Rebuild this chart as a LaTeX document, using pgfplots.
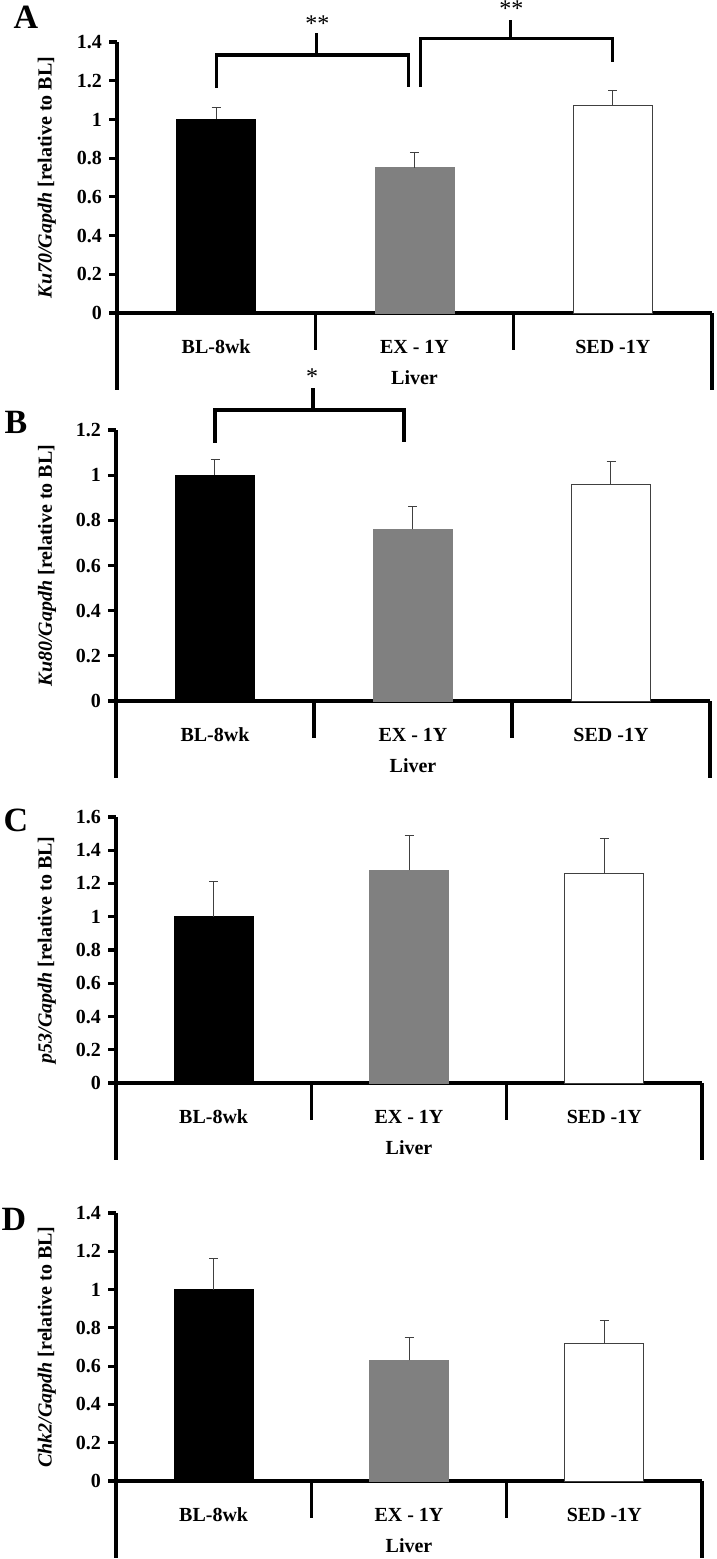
\documentclass[border=0pt]{standalone}
\usepackage{fontspec}
\setmainfont{Liberation Serif}
\usepackage{pgfplots}
\pgfplotsset{compat=1.18}
\definecolor{exgray}{RGB}{128,128,128}
\definecolor{edgegray}{RGB}{64,64,64}

\pgfplotsset{
  liverpanel/.style={
    scale only axis,
    axis x line*=bottom, axis y line*=left,
    xmin=-0.5, xmax=2.5, ymin=0,
    xtick={0,1,2},
    xticklabels={BL-8wk, EX - 1Y, SED -1Y},
    xtick style={draw=none},
    xticklabel style={font=\bfseries, yshift=-6pt},
    ytick distance=0.2,
    yticklabel={\bfseries\pgfmathprintnumber[assume math mode=true]{\tick}},
    yticklabel style={font=\bfseries},
    tick align=outside,
    major tick length=4pt,
    ytick style={line width=1.6pt, black},
    axis line style={line width=1.8pt},
    xlabel={Liver},
    xlabel style={font=\bfseries, at={(axis description cs:0.5,0)}, anchor=center, yshift=-32.5pt},
    ylabel style={font=\bfseries, anchor=center},
    clip=false,
  },
  errbar/.style={error bars/.cd, y dir=plus, y explicit,
    error bar style={line width=0.5pt, edgegray},
    error mark options={rotate=90, mark size=2.25pt, line width=0.5pt, edgegray}},
  bracket/.style={line width=1.6pt, black},
}

\newcommand{\bars}[6]{%
  \addplot[ybar, bar width=39.5pt, bar shift=0pt, fill=black, draw=black, errbar] coordinates {(0,#1) +- (0,#2)};
  \addplot[ybar, bar width=39.5pt, bar shift=0pt, fill=exgray, draw=exgray, errbar] coordinates {(1,#3) +- (0,#4)};
  \addplot[ybar, bar width=39.5pt, bar shift=0pt, fill=white, draw=edgegray, line width=0.5pt, errbar] coordinates {(2,#5) +- (0,#6)};
}
\newcommand{\frames}{%
  \draw[line width=1.8pt] (axis cs:-0.5,0) -- ([yshift=-38.5pt]axis cs:-0.5,0);
  \draw[line width=1.8pt] (axis cs:2.5,0) -- ([yshift=-38.5pt]axis cs:2.5,0);
  \draw[line width=1.8pt] (axis cs:0.5,0) -- ([yshift=-18.5pt]axis cs:0.5,0);
  \draw[line width=1.8pt] (axis cs:1.5,0) -- ([yshift=-18.5pt]axis cs:1.5,0);
}

\begin{document}
\begin{tikzpicture}
\useasboundingbox (0,0) rectangle (358.5pt,-779.5pt);

% Panel A
\begin{axis}[liverpanel, at={(58.5pt,-21pt)}, anchor=north west,
  width=297.5pt, height=135.5pt, ymax=1.4,
  ylabel={\textit{Ku70/Gapdh} [relative to BL]},
  ylabel style={at={(axis description cs:-0.118,0.5)}}]
  \bars{1.00}{0.06}{0.75}{0.08}{1.07}{0.08}
  \addplot[bracket] coordinates {(0,1.162) (0,1.333) (0.968,1.333) (0.968,1.167)};
  \addplot[bracket] coordinates {(0.504,1.333) (0.504,1.446)};
  \addplot[bracket] coordinates {(1.029,1.167) (1.029,1.42) (2,1.42) (2,1.296)};
  \addplot[bracket] coordinates {(1.483,1.42) (1.483,1.513)};
  \node[anchor=base, font=\large] at (axis cs:0.51,1.452) {**};
  \node[anchor=base, font=\large] at (axis cs:1.488,1.534) {**};
  \frames
\end{axis}

% Panel B
\begin{axis}[liverpanel, at={(58pt,-215pt)}, anchor=north west,
  width=297pt, height=135.5pt, ymax=1.2,
  ylabel={\textit{Ku80/Gapdh} [relative to BL]},
  ylabel style={at={(axis description cs:-0.116,0.5)}}]
  \bars{1.00}{0.07}{0.76}{0.10}{0.96}{0.10}
  \addplot[bracket] coordinates {(0,1.143) (0,1.289) (0.955,1.289) (0.955,1.147)};
  \addplot[bracket] coordinates {(0.495,1.289) (0.495,1.386)};
  \node[anchor=base, font=\large] at (axis cs:0.49,1.402) {*};
  \frames
\end{axis}

% Panel C
\begin{axis}[liverpanel, at={(58pt,-408.5pt)}, anchor=north west,
  width=293pt, height=133pt, ymax=1.6,
  ylabel={\textit{p53/Gapdh} [relative to BL]},
  ylabel style={at={(axis description cs:-0.118,0.5)}}]
  \bars{1.00}{0.21}{1.28}{0.21}{1.26}{0.21}
  \frames
\end{axis}

% Panel D
\begin{axis}[liverpanel, at={(58pt,-606.5pt)}, anchor=north west,
  width=293pt, height=134pt, ymax=1.4,
  ylabel={\textit{Chk2/Gapdh} [relative to BL]},
  ylabel style={at={(axis description cs:-0.118,0.5)}}]
  \bars{1.00}{0.16}{0.63}{0.12}{0.72}{0.12}
  \frames
\end{axis}

\node[font=\fontsize{17}{17}\selectfont\bfseries] at (13pt,-8.5pt) {A};
\node[font=\fontsize{17}{17}\selectfont\bfseries] at (8pt,-211pt) {B};
\node[font=\fontsize{17}{17}\selectfont\bfseries] at (8pt,-410pt) {C};
\node[font=\fontsize{17}{17}\selectfont\bfseries] at (7pt,-609.5pt) {D};
\end{tikzpicture}
\end{document}
